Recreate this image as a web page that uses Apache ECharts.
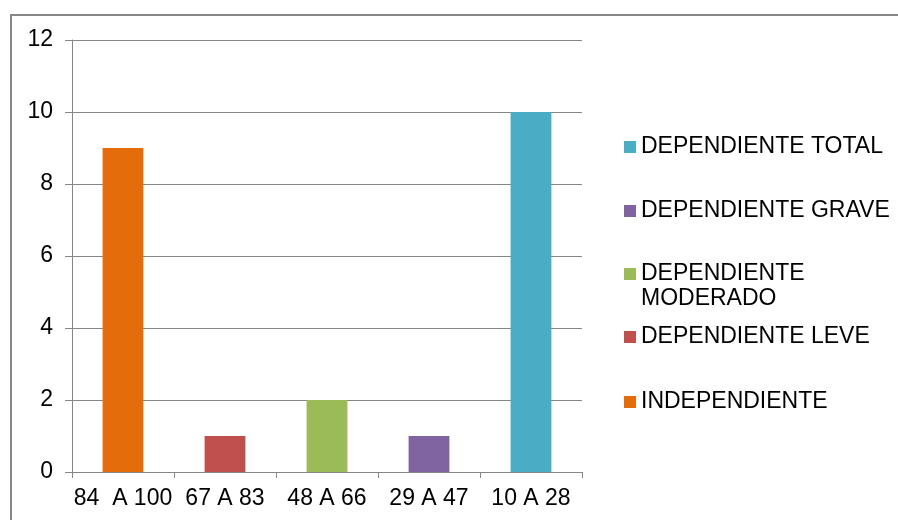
<!DOCTYPE html>
<html>
<head>
<meta charset="utf-8">
<script src="https://cdn.jsdelivr.net/npm/echarts@6/dist/echarts.min.js"></script>
<style>
  html, body { margin: 0; padding: 0; background: #fff; }
  #chart { width: 898px; height: 520px; }
</style>
</head>
<body>
<div id="chart"></div>
<script>
// Score ranges (Barthel index) on the category axis
const categories = ['84  A 100', '67 A 83', '48 A 66', '29 A 47', '10 A 28'];
// One dependency level per range, in the same order
const levelNames = ['INDEPENDIENTE', 'DEPENDIENTE LEVE', 'DEPENDIENTE MODERADO', 'DEPENDIENTE GRAVE', 'DEPENDIENTE TOTAL'];
const counts = [9, 1, 2, 1, 10];
const levelColors = ['#E46C0A', '#C0504D', '#9BBB59', '#8064A2', '#4BACC6'];
const yTicks = { min: 0, max: 12, step: 2 };

const font = 'Liberation Sans, Arial, sans-serif';
const fontSize = 23;
const axisGray = '#868686';

// Each level is its own series holding a value only in its own range;
// stacking them keeps every bar centred in its category.
const series = levelNames.map((name, i) => ({
  name: name,
  type: 'bar',
  stack: 'levels',
  barWidth: '40%',
  itemStyle: { color: levelColors[i] },
  data: categories.map((c, j) => (j === i ? counts[i] : null))
}));

// Legend entries, listed top to bottom, with the centre line of each first row
const legendRows = [
  { name: 'DEPENDIENTE TOTAL', y: 147 },
  { name: 'DEPENDIENTE GRAVE', y: 211 },
  { name: 'DEPENDIENTE MODERADO', y: 274, wrap: true },
  { name: 'DEPENDIENTE LEVE', y: 337 },
  { name: 'INDEPENDIENTE', y: 402 }
];
const lineH = 25;
// A wrapped entry gets an empty first row so the marker sits beside its first text row
const legends = legendRows.map(r => ({
  orient: 'vertical',
  left: 624,
  top: r.wrap ? r.y - lineH * 1.5 : r.y - lineH / 2,
  padding: 0,
  itemWidth: 12,
  itemHeight: 12,
  icon: 'rect',
  selectedMode: false,
  data: [r.name],
  formatter: r.wrap ? () => ' \nDEPENDIENTE\nMODERADO' : undefined,
  textStyle: {
    fontFamily: font,
    fontSize: fontSize,
    color: '#000',
    lineHeight: lineH
  }
}));

const chart = echarts.init(document.getElementById('chart'), null, { renderer: 'canvas' });
chart.setOption({
  animation: false,
  backgroundColor: '#fff',
  graphic: [{
    type: 'rect',
    silent: true,
    shape: { x: 11, y: 15, width: 1200, height: 1200 },
    style: { fill: 'none', stroke: '#878787', lineWidth: 2 }
  }],
  grid: { left: 72, right: 316, top: 40, bottom: 48 },
  legend: legends,
  xAxis: {
    type: 'category',
    data: categories,
    axisLine: { lineStyle: { color: axisGray, width: 1 } },
    axisTick: { show: true, length: 6, lineStyle: { color: axisGray } },
    axisLabel: { color: '#000', fontFamily: font, fontSize: fontSize, margin: 15, interval: 0 }
  },
  yAxis: {
    type: 'value',
    min: yTicks.min,
    max: yTicks.max,
    interval: yTicks.step,
    axisLine: { show: true, lineStyle: { color: axisGray, width: 1 } },
    axisTick: { show: true, length: 7, lineStyle: { color: axisGray } },
    axisLabel: { color: '#000', fontFamily: font, fontSize: fontSize, margin: 19 },
    splitLine: { show: true, lineStyle: { color: axisGray, width: 1 } }
  },
  series: series
});
</script>
</body>
</html>
